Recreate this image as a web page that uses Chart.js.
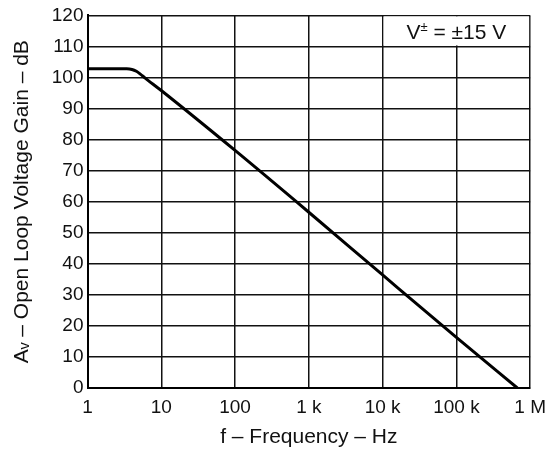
<!DOCTYPE html>
<html>
<head>
<meta charset="utf-8">
<script src="https://cdn.jsdelivr.net/npm/chart.js@4"></script>
<style>
  html, body { margin: 0; padding: 0; background: #fff; }
  #wrap { width: 554px; height: 462px; }
</style>
</head>
<body>
<div id="wrap"><canvas id="gainChart" width="554" height="462"></canvas></div>
<script>
// ===== Open loop gain vs frequency =====

const freqs = [1, 3.4, 4, 4.6, 5.2, 6, 10, 100, 1000, 10000, 100000, 670000];
const gains = [102.8, 102.8, 102.6, 102.0, 101.1, 99.9, 95.8, 76.5, 56.6, 36.4, 16.3, 0];

const xTickValues = [1, 10, 100, 1000, 10000, 100000, 1000000];
const xTickLabels = ['1', '10', '100', '1 k', '10 k', '100 k', '1 M'];
const yTickValues = [0, 10, 20, 30, 40, 50, 60, 70, 80, 90, 100, 110, 120];

const FONT = '"Liberation Sans", Arial, sans-serif';

// label cell in the top right corner
const noteBox = {
  id: 'noteBox',
  beforeDatasetsDraw(chart) {
    const { ctx, scales: { x, y } } = chart;
    const left = x.getPixelForValue(10000) + 1;
    const right = chart.chartArea.right - 1;
    const top = y.getPixelForValue(120) + 1;
    const bottom = y.getPixelForValue(110) - 1;
    ctx.save();
    ctx.fillStyle = '#fff';
    ctx.fillRect(left, top, right - left, bottom - top);
    ctx.fillStyle = '#111';
    ctx.textBaseline = 'alphabetic';
    const big = '21px ' + FONT, small = '13px ' + FONT;
    ctx.font = big;
    const wV = ctx.measureText('V').width;
    const rest = ' = ±15 V';
    const wRest = ctx.measureText(rest).width;
    ctx.font = small;
    const wPm = ctx.measureText('±').width;
    const total = wV + wPm + wRest;
    let cx = (left + right) / 2 - total / 2;
    const base = (top + bottom) / 2 + 8;
    ctx.font = big;
    ctx.fillText('V', cx, base);
    cx += wV;
    ctx.font = small;
    ctx.fillText('±', cx, base - 8);
    cx += wPm;
    ctx.font = big;
    ctx.fillText(rest, cx, base);
    ctx.restore();
  }
};

const ctx = document.getElementById('gainChart').getContext('2d');
new Chart(ctx, {
  type: 'line',
  data: {
    datasets: [{
      data: freqs.map((f, i) => ({ x: f, y: gains[i] })),
      borderColor: '#000',
      borderWidth: 3,
      pointRadius: 0,
      cubicInterpolationMode: 'monotone',
      fill: false
    }]
  },
  options: {
    responsive: false,
    animation: false,
    layout: { padding: { left: 6, right: 23, top: 14, bottom: 8 } },
    plugins: { legend: { display: false }, tooltip: { enabled: false } },
    scales: {
      x: {
        type: 'logarithmic',
        min: 1,
        max: 1000000,
        afterBuildTicks: (s) => { s.ticks = xTickValues.map(v => ({ value: v })); },
        afterFit: (s) => { s.height = 66; },
        ticks: {
          color: '#111',
          font: { family: FONT, size: 19 },
          padding: 8,
          maxRotation: 0,
          autoSkip: false,
          callback: (v) => { const i = xTickValues.indexOf(v); return i >= 0 ? xTickLabels[i] : ''; }
        },
        grid: { color: '#111', lineWidth: 1.5, drawTicks: false },
        border: { color: '#000', width: 2 },
        title: {
          display: true,
          text: 'f – Frequency – Hz',
          color: '#111',
          font: { family: FONT, size: 21 },
          padding: { top: 4, bottom: 4 }
        }
      },
      y: {
        min: 0,
        max: 120,
        afterBuildTicks: (s) => { s.ticks = yTickValues.map(v => ({ value: v })); },
        afterFit: (s) => { s.width = 81.5; },
        ticks: {
          color: '#111',
          font: { family: FONT, size: 19 },
          padding: 4
        },
        grid: { color: '#111', lineWidth: 1.5, drawTicks: false },
        border: { color: '#000', width: 2 },
        title: {
          display: true,
          text: 'Aᵥ – Open Loop Voltage Gain – dB',
          color: '#111',
          font: { family: FONT, size: 21 },
          padding: { top: 4, bottom: 4 }
        }
      }
    }
  },
  plugins: [noteBox]
});
</script>
</body>
</html>
